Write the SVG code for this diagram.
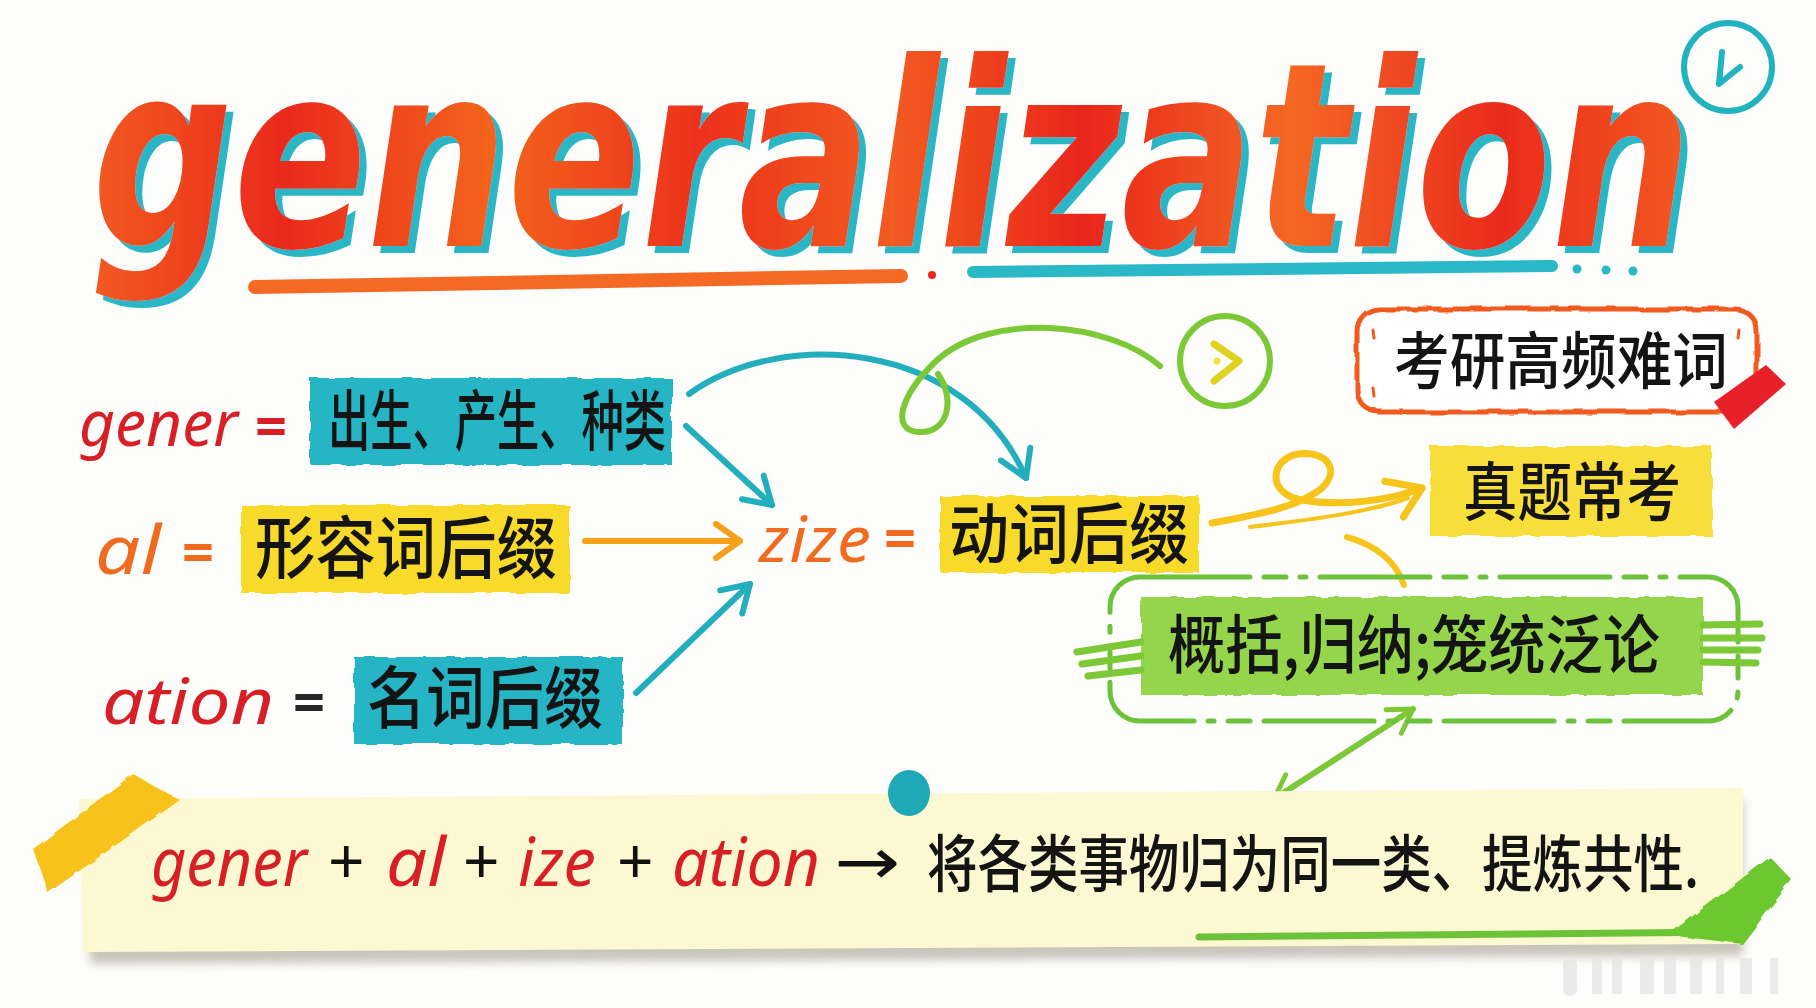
<svg xmlns="http://www.w3.org/2000/svg" width="1816" height="1008" viewBox="0 0 1816 1008">
<defs>
<style>
.cjk{font-family:'Noto Sans CJK SC','Noto Sans CJK JP',sans-serif;fill:#141414;font-weight:500}
.hand{font-family:'Noto Sans','DejaVu Sans',sans-serif;font-style:italic}
.red{fill:#d81f26}
.org{fill:#f06a20}
.eq{font-family:'Noto Sans','DejaVu Sans',sans-serif;font-weight:700}
.plus{font-family:'Noto Sans','DejaVu Sans',sans-serif;font-weight:400;fill:#111}
.title{font-family:'DejaVu Sans Condensed','DejaVu Sans',sans-serif;font-style:italic;font-weight:700}
.c{fill:none;stroke-linecap:round;stroke-linejoin:round}
.ts{stroke:#22aebd;stroke-width:6}
.os{stroke:#f7a01c;stroke-width:6}
.ys{stroke:#f6c41a;stroke-width:7}
.gs{stroke:#7cc836;stroke-width:6}
</style>
<linearGradient id="tg" x1="0" y1="0" x2="1" y2="0">
<stop offset="0" stop-color="#f25a20"/>
<stop offset="0.12" stop-color="#ea2a1e"/>
<stop offset="0.25" stop-color="#f3641f"/>
<stop offset="0.38" stop-color="#ec321e"/>
<stop offset="0.5" stop-color="#f35b20"/>
<stop offset="0.62" stop-color="#e9261d"/>
<stop offset="0.75" stop-color="#f46822"/>
<stop offset="0.88" stop-color="#ea2b1e"/>
<stop offset="1" stop-color="#f35a20"/>
</linearGradient>
<filter id="tshadow" x="-5%" y="-10%" width="110%" height="130%">
<feFlood flood-color="#2bb6c5" result="f"/>
<feComposite in="f" in2="SourceAlpha" operator="in" result="s"/>
<feOffset in="s" dx="7" dy="7" result="so"/>
<feMerge><feMergeNode in="so"/><feMergeNode in="SourceGraphic"/></feMerge>
</filter>
<filter id="rough" x="-5%" y="-10%" width="110%" height="120%">
<feTurbulence type="fractalNoise" baseFrequency="0.05" numOctaves="2" seed="3"/>
<feDisplacementMap in="SourceGraphic" scale="5"/>
</filter>
<filter id="shadow" x="-5%" y="-30%" width="110%" height="160%">
<feGaussianBlur stdDeviation="5"/>
</filter>
<marker id="mTeal" viewBox="0 0 40 40" refX="34" refY="20" markerWidth="40" markerHeight="40" markerUnits="userSpaceOnUse" orient="auto-start-reverse">
<path d="M8,4 L34,20 L8,36" fill="none" stroke="#22aebd" stroke-width="6" stroke-linecap="round" stroke-linejoin="round"/>
</marker>
<marker id="mOrange" viewBox="0 0 40 40" refX="34" refY="20" markerWidth="40" markerHeight="40" markerUnits="userSpaceOnUse" orient="auto-start-reverse">
<path d="M10,3 L34,20 L10,37" fill="none" stroke="#f7a01c" stroke-width="6" stroke-linecap="round" stroke-linejoin="round"/>
</marker>
<marker id="mYellow" viewBox="0 0 48 48" refX="42" refY="24" markerWidth="48" markerHeight="48" markerUnits="userSpaceOnUse" orient="auto-start-reverse">
<path d="M10,4 L42,24 L14,44" fill="none" stroke="#f6c41a" stroke-width="7" stroke-linecap="round" stroke-linejoin="round"/>
</marker>
<marker id="mGreen" viewBox="0 0 36 36" refX="31" refY="18" markerWidth="36" markerHeight="36" markerUnits="userSpaceOnUse" orient="auto-start-reverse">
<path d="M8,4 L31,18 L8,32" fill="none" stroke="#7cc836" stroke-width="5" stroke-linecap="round" stroke-linejoin="round"/>
</marker>
</defs>

<rect width="1816" height="1008" fill="#fdfdfb"/>

<g id="title">
<text class="title" x="92" y="246" font-size="256" textLength="1600" lengthAdjust="spacingAndGlyphs" fill="url(#tg)" filter="url(#tshadow)">generalization</text>
</g>

<g id="title-underline" class="c">
<path d="M255,287 L901,276" stroke="#f46a24" stroke-width="14"/>
<circle cx="932" cy="275" r="4" fill="#e8261e" stroke="none"/>
<path d="M973,272 L1552,266" stroke="#2bb8c6" stroke-width="12"/>
<circle cx="1577" cy="269" r="4.5" fill="#2bb8c6" stroke="none"/>
<circle cx="1606" cy="270" r="4.5" fill="#2bb8c6" stroke="none"/>
<circle cx="1633" cy="271" r="4.5" fill="#2bb8c6" stroke="none"/>
</g>

<g id="clock-icon" class="c">
<circle cx="1728" cy="67" r="44" stroke="#22b3c0" stroke-width="6"/>
<path d="M1722,52 L1719,84 L1740,67" stroke="#22b3c0" stroke-width="6"/>
</g>

<g id="connectors">
<path class="c ts" d="M686,426 L772,505" marker-end="url(#mTeal)"/>
<path class="c ts" d="M636,693 L750,584" marker-end="url(#mTeal)"/>
<path class="c ts" d="M689,394 C780,328 965,338 1026,478" marker-end="url(#mTeal)"/>
<path class="c os" d="M585,541 L740,541" marker-end="url(#mOrange)"/>
<path class="c gs" d="M1160,366 C1110,322 990,310 935,362 C900,396 891,430 918,432 C948,434 956,400 938,374"/>
<path class="c ys" d="M1212,523 C1262,514 1300,506 1322,488 C1342,468 1324,450 1298,454 C1270,459 1266,494 1302,500 C1342,507 1392,500 1422,488" marker-end="url(#mYellow)"/>
<path class="c" d="M1250,527 C1310,520 1370,512 1408,498" stroke="#f6c41a" stroke-width="4"/>
<path class="c" d="M1347,537 Q1392,550 1404,585" stroke="#f6c41a" stroke-width="6"/>
<path class="c gs" d="M1413,709 L1274,799" marker-start="url(#mGreen)" marker-end="url(#mGreen)"/>
</g>

<g id="node-gener">
<text class="hand red" x="79" y="446" font-size="64" textLength="159" lengthAdjust="spacingAndGlyphs">gener</text>
<text class="eq red" x="255" y="446" font-size="56">=</text>
<rect x="310" y="378" width="362" height="87" fill="#27b5c4" filter="url(#rough)"/>
<text class="cjk" x="328" y="445" font-size="66" textLength="338" lengthAdjust="spacingAndGlyphs">出生、产生、种类</text>
</g>

<g id="node-al">
<text class="hand org" x="95" y="574" font-size="68" textLength="66" lengthAdjust="spacingAndGlyphs">al</text>
<text class="eq org" x="182" y="572" font-size="56">=</text>
<rect x="241" y="505" width="329" height="88" fill="#f8da2c" filter="url(#rough)"/>
<text class="cjk" x="255" y="573" font-size="68" textLength="302" lengthAdjust="spacingAndGlyphs">形容词后缀</text>
</g>

<g id="node-ation">
<text class="hand red" x="102" y="724" font-size="64" textLength="172" lengthAdjust="spacingAndGlyphs">ation</text>
<text class="eq" x="293" y="722" font-size="56" fill="#262626">=</text>
<rect x="354" y="657" width="269" height="87" fill="#27b5c4" filter="url(#rough)"/>
<text class="cjk" x="367" y="723" font-size="68" textLength="236" lengthAdjust="spacingAndGlyphs">名词后缀</text>
</g>

<g id="node-zize">
<text class="hand org" x="759" y="562" font-size="64" textLength="112" lengthAdjust="spacingAndGlyphs">zize</text>
<text class="eq org" x="884" y="558" font-size="56">=</text>
<rect x="940" y="496" width="259" height="77" fill="#f8da2c" filter="url(#rough)"/>
<text class="cjk" x="949" y="558" font-size="66" textLength="240" lengthAdjust="spacingAndGlyphs">动词后缀</text>
</g>

<g id="node-circle-arrow" class="c">
<circle cx="1225" cy="361" r="45" stroke="#7cc836" stroke-width="6"/>
<path d="M1214,344 L1239,361 L1214,381" stroke="#ddd21e" stroke-width="7"/>
<circle cx="1217" cy="361" r="3.5" fill="#f0e040" stroke="none"/>
</g>

<g id="node-kaoyan">
<rect x="1357" y="309" width="400" height="103" rx="22" fill="#ffffff" stroke="#f05a1e" stroke-width="5" filter="url(#rough)"/>
<path class="c" d="M1373,330 l1,8 M1373,388 l1,8 M1739,330 l-1,8" stroke="#f05a1e" stroke-width="3"/>
<text class="cjk" x="1394" y="384" font-size="62" textLength="334" lengthAdjust="spacingAndGlyphs">考研高频难词</text>
<polygon points="1714,402 1766,365 1786,384 1734,429" fill="#e8202a"/>
</g>

<g id="node-zhenti">
<rect x="1430" y="446" width="282" height="90" fill="#f8de3a" filter="url(#rough)"/>
<text class="cjk" x="1463" y="515" font-size="64" textLength="218" lengthAdjust="spacingAndGlyphs">真题常考</text>
</g>

<g id="node-meaning">
<rect x="1141" y="597" width="562" height="98" fill="#94d54c" filter="url(#rough)"/>
<rect x="1110" y="577" width="628" height="144" rx="30" fill="none" stroke="#6cc33a" stroke-width="5" stroke-dasharray="110 14 22 14 6 14" stroke-linecap="round"/>
<path class="c" d="M1077,652 L1141,642 M1082,664 L1141,656 M1088,676 L1141,670 M1703,625 L1760,624 M1703,638 L1762,638 M1703,650 L1758,650 M1703,662 L1756,663" stroke="#7cc836" stroke-width="7"/>
<text class="cjk" x="1168" y="668" font-size="64" textLength="492" lengthAdjust="spacingAndGlyphs">概括,归纳;笼统泛论</text>
</g>

<g id="node-summary">
<polygon points="86,812 1743,800 1743,956 90,964" fill="#8a8270" opacity="0.45" filter="url(#shadow)"/>
<polygon points="79,799 1743,788 1743,944 83,952" fill="#fbf8d2"/>
<path class="c" d="M1199,937 L1737,932" stroke="#6cc33a" stroke-width="7"/>
<polygon points="133,774 180,800 48,893 33,849" fill="#f7c21a" filter="url(#rough)"/>
<polygon points="1668,935 1770,857 1792,880 1742,944" fill="#6cc82e" filter="url(#rough)"/>
<ellipse cx="909" cy="793" rx="21" ry="23" fill="#1fa8b5"/>
<text class="hand red" x="151" y="886" font-size="68" textLength="156" lengthAdjust="spacingAndGlyphs">gener</text>
<text class="plus" x="328" y="884" font-size="64">+</text>
<text class="hand red" x="386" y="886" font-size="68" textLength="60" lengthAdjust="spacingAndGlyphs">al</text>
<text class="plus" x="463" y="884" font-size="64">+</text>
<text class="hand red" x="518" y="886" font-size="68" textLength="78" lengthAdjust="spacingAndGlyphs">ize</text>
<text class="plus" x="617" y="884" font-size="64">+</text>
<text class="hand red" x="672" y="886" font-size="68" textLength="148" lengthAdjust="spacingAndGlyphs">ation</text>
<text class="plus" x="834" y="884" font-size="64" textLength="66" lengthAdjust="spacingAndGlyphs">→</text>
<text class="cjk" x="927" y="887" font-size="62" textLength="772" lengthAdjust="spacingAndGlyphs">将各类事物归为同一类、提炼共性.</text>
</g>

<g id="watermark" fill="#e6e6e6" opacity="0.8">
<rect x="1563" y="958" width="14" height="38" rx="6"/>
<rect x="1592" y="958" width="10" height="36"/>
<rect x="1612" y="958" width="10" height="36"/>
<rect x="1640" y="958" width="14" height="36"/>
<rect x="1664" y="958" width="12" height="36"/>
<rect x="1690" y="958" width="12" height="36"/>
<rect x="1716" y="958" width="8" height="36"/>
<rect x="1740" y="958" width="12" height="36"/>
<rect x="1770" y="958" width="8" height="36"/>
</g>
</svg>
